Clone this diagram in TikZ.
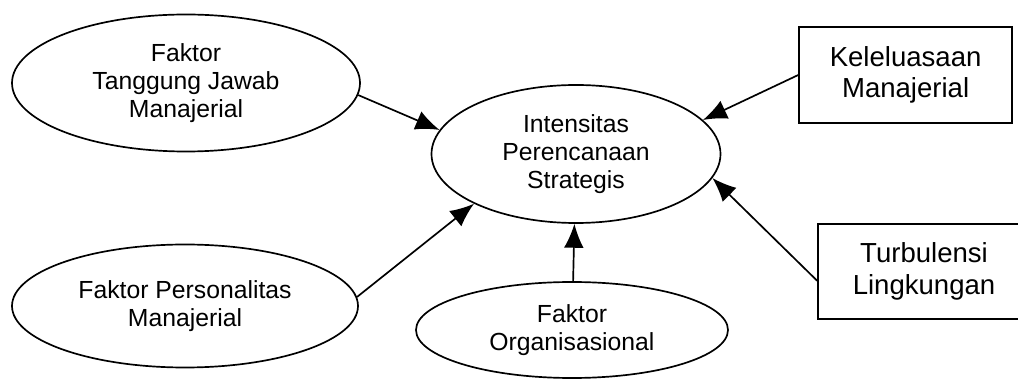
\documentclass[tikz,border=0pt]{standalone}
\usepackage{fontspec}
\setmainfont{Liberation Sans}
\usetikzlibrary{shapes.geometric, arrows.meta}

\begin{document}
\begin{tikzpicture}[>={Latex[length=17pt,width=14pt]}, line width=1.2pt,
  elips/.style={draw, ellipse, inner sep=0pt, align=center, font=\fontsize{17.6}{20}\selectfont},
  kotak/.style={draw, rectangle, inner sep=0pt, align=center, font=\fontsize{19.6}{22.5}\selectfont}]
\useasboundingbox (0,0) rectangle (25.45,9.525);
\clip (0,0) rectangle (25.45,9.525);
\node[elips, minimum width=8.7cm, minimum height=3.425cm] (T) at (4.65,7.45) {Faktor\\Tanggung Jawab\\Manajerial};
\node[elips, minimum width=8.65cm, minimum height=3.075cm] (P) at (4.625,1.875) {Faktor Personalitas\\Manajerial};
\node[elips, minimum width=7.225cm, minimum height=3.45cm] (I) at (14.4,5.675) {Intensitas\\Perencanaan\\Strategis};
\node[elips, minimum width=7.8cm, minimum height=2.4cm] (O) at (14.3,1.275) {Faktor\\Organisasional};
\node[kotak, minimum width=5.325cm, minimum height=2.4cm] (K) at (22.64,7.65) {Keleluasaan\\Manajerial};
\node[kotak, minimum width=5.3cm, minimum height=2.375cm] (L) at (23.1,2.74) {Turbulensi\\Lingkungan};

\draw[->] (T.-4) -- (I.170);
\draw[->] (P.3) -- (I.206);
\draw[->] (O) -- (I);
\draw[->] (K.west) -- (I.15);
\draw[->] (L.185) -- (I.-10);

\end{tikzpicture}
\end{document}
